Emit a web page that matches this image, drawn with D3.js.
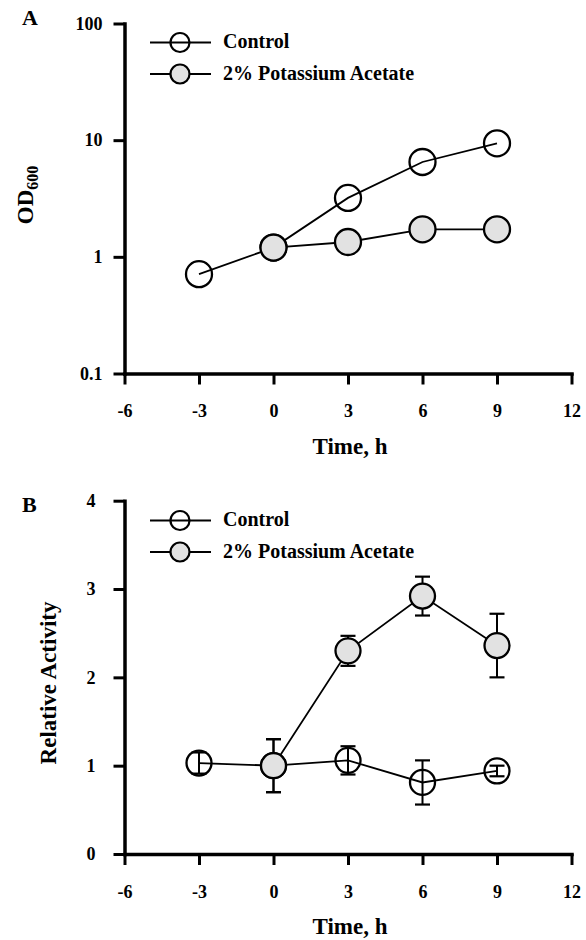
<!DOCTYPE html>
<head>
  <meta charset="utf-8">
  <script src="https://d3js.org/d3.v7.min.js"></script>
  <style>
    body { margin:0; background:#fff; }
    text { font-family: "Liberation Serif", "Times New Roman", serif; font-weight: bold; fill:#000; }
  </style>
</head>
<body>
  <script>
// values
const timeTicks = [-6, -3, 0, 3, 6, 9, 12];
const odTicks = [0.1, 1, 10, 100];
const activityTicks = [0, 1, 2, 3, 4];

const controlHours = [-3, 0, 3, 6, 9];
const acetateHours = [0, 3, 6, 9];

const odControl = [0.71, 1.2, 3.2, 6.5, 9.4];
const odAcetate = [1.2, 1.34, 1.72, 1.72];

const actControl = [1.03, 1.0, 1.06, 0.81, 0.94];
const actControlErr = [0.12, 0.30, 0.16, 0.25, 0.06];
const actAcetate = [1.0, 2.3, 2.92, 2.36];
const actAcetateErr = [0.30, 0.17, 0.22, 0.36];

const seriesNames = ["Control", "2% Potassium Acetate"];

const W = 586, H = 940;
const svg = d3.select("body").append("svg")
    .attr("width", W)
    .attr("height", H);

const x = d3.scaleLinear().domain([-6, 12]).range([124.5, 571.5]);

function panel(opts) {
  const g = svg.append("g");
  const y = opts.y;
  const y0 = y.range()[0];

  // x axis (plain hyphen for negatives, like the original)
  const xa = g.append("g")
      .attr("transform", `translate(0,${y0})`)
      .call(d3.axisBottom(x).tickValues(timeTicks).tickFormat(d => String(d))
            .tickSize(11).tickSizeOuter(0).tickPadding(20));
  // y axis
  const ya = g.append("g")
      .attr("transform", `translate(${x.range()[0]},0)`)
      .call(d3.axisLeft(y).tickValues(opts.ticks).tickFormat(d => String(d))
            .tickSize(11).tickSizeOuter(0).tickPadding(opts.yPad));
  [xa, ya].forEach(a => {
    a.select(".domain").attr("stroke", "#000").attr("stroke-width", 3.5).attr("stroke-linecap", "square");
    a.selectAll(".tick line").attr("stroke", "#000").attr("stroke-width", 3);
    a.selectAll(".tick text").style("font-size", "18px").attr("fill", "#000");
  });

  // axis titles
  g.append("text")
      .attr("x", 350).attr("y", y0 + 80)
      .attr("text-anchor", "middle")
      .style("font-size", "23px")
      .text("Time, h");
  const yt = g.append("text")
      .attr("transform", `translate(${opts.yTitleX},${opts.yTitleY}) rotate(-90)`)
      .attr("text-anchor", "middle")
      .style("font-size", "23px");
  opts.yTitle(yt);

  // panel letter
  g.append("text")
      .attr("x", 22).attr("y", opts.letterY)
      .style("font-size", "22px")
      .text(opts.letter);

  // legend
  const leg = g.append("g");
  seriesNames.forEach((name, i) => {
    const ly = opts.legendY + i * 31.5;
    leg.append("line")
        .attr("x1", 150).attr("x2", 211).attr("y1", ly).attr("y2", ly)
        .attr("stroke", "#000").attr("stroke-width", 1.8);
    leg.append("circle")
        .attr("cx", 180).attr("cy", ly).attr("r", 9.5)
        .attr("fill", i === 0 ? "none" : "#e2e2e2")
        .attr("stroke", "#000").attr("stroke-width", 2.2);
    leg.append("text")
        .attr("x", 223).attr("y", ly + 5.5)
        .style("font-size", "20px")
        .text(name);
  });

  const line = d3.line().x(d => x(d.t)).y(d => y(d.v));

  opts.series.forEach((s, si) => {
    const pts = s.hours.map((t, i) => ({ t: t, v: s.values[i], e: s.errs ? s.errs[i] : 0 }));
    g.append("path")
        .datum(pts)
        .attr("d", line)
        .attr("fill", "none")
        .attr("stroke", "#000")
        .attr("stroke-width", 1.8);
    if (s.errs) {
      const eb = g.selectAll(null).data(pts).enter().append("g");
      eb.append("line")
          .attr("x1", d => x(d.t)).attr("x2", d => x(d.t))
          .attr("y1", d => y(d.v + d.e)).attr("y2", d => y(d.v - d.e))
          .attr("stroke", "#000").attr("stroke-width", 2);
      [1, -1].forEach(sgn => {
        eb.append("line")
            .attr("x1", d => x(d.t) - 7.5).attr("x2", d => x(d.t) + 7.5)
            .attr("y1", d => y(d.v + sgn * d.e)).attr("y2", d => y(d.v + sgn * d.e))
            .attr("stroke", "#000").attr("stroke-width", 2.2);
      });
    }
    g.selectAll(null).data(pts).enter().append("circle")
        .attr("cx", d => x(d.t)).attr("cy", d => y(d.v))
        .attr("r", opts.r)
        .attr("fill", si === 0 ? "none" : "#e2e2e2")
        .attr("stroke", "#000").attr("stroke-width", 2.3);
  });
}

// panel A: OD600, log scale
panel({
  letter: "A", letterY: 25,
  y: d3.scaleLog().domain([0.1, 100]).range([373.5, 23.5]),
  ticks: odTicks, yPad: 11,
  yTitleX: 33, yTitleY: 195,
  yTitle: t => { t.append("tspan").text("OD"); t.append("tspan").attr("dy", 5).style("font-size", "16px").text("600"); },
  legendY: 42.5, r: 13,
  series: [
    { hours: controlHours, values: odControl },
    { hours: acetateHours, values: odAcetate }
  ]
});

// panel B: relative activity
panel({
  letter: "B", letterY: 512,
  y: d3.scaleLinear().domain([0, 4]).range([854, 500.7]),
  ticks: activityTicks, yPad: 18,
  yTitleX: 56, yTitleY: 683,
  yTitle: t => t.text("Relative Activity"),
  legendY: 520.5, r: 12.5,
  series: [
    { hours: controlHours, values: actControl, errs: actControlErr },
    { hours: acetateHours, values: actAcetate, errs: actAcetateErr }
  ]
});
  </script>
</body>
